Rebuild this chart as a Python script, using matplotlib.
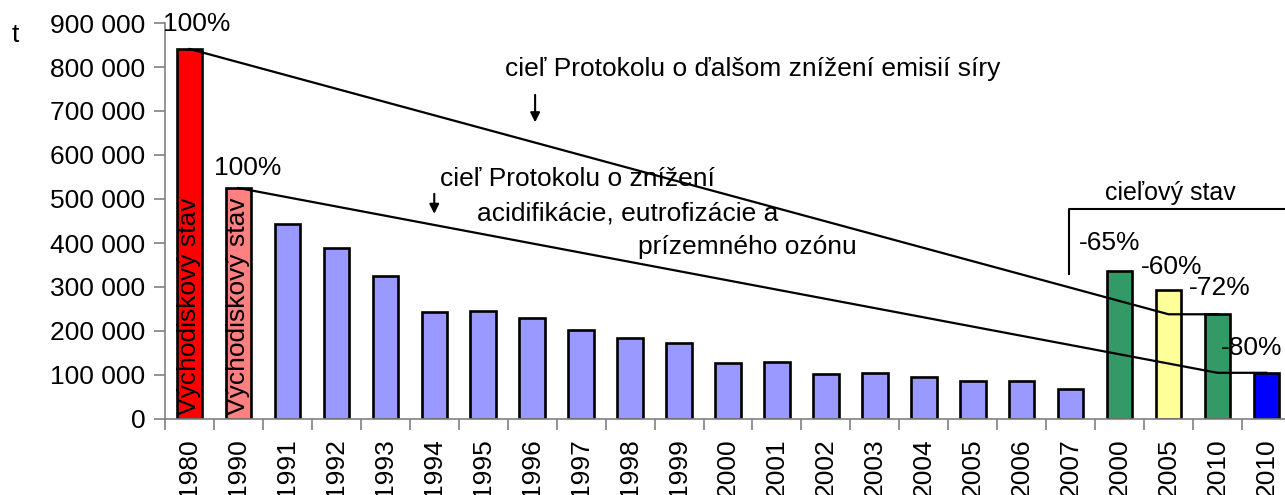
import matplotlib
matplotlib.use('Agg')
from matplotlib import pyplot as plt

# data
years = ['1980', '1990', '1991', '1992', '1993', '1994', '1995', '1996', '1997',
         '1998', '1999', '2000', '2001', '2002', '2003', '2004', '2005', '2006',
         '2007', '2000', '2005', '2010', '2010']
emissions = [841000, 525000, 443000, 389000, 325000, 244000, 245000, 230000, 203000,
             183000, 172000, 126500, 129500, 102000, 105000, 95500, 87000, 87000,
             69000, 336000, 294000, 238000, 105000]
barColors = ['#FF0000', '#FF8080'] + ['#9999FF'] * 17 + ['#339966', '#FFFF99', '#339966', '#0000FF']
yTicks = [0, 100000, 200000, 300000, 400000, 500000, 600000, 700000, 800000, 900000]

# ciel protokolov (index kategorie, hodnota)
sulphurX = [0, 20, 21]
sulphurY = [841000, 238000, 238000]
gothenburgX = [1, 21, 22]
gothenburgY = [525000, 105000, 105000]

fs = 19
plt.rcParams['font.family'] = ['Liberation Sans', 'DejaVu Sans']
fig = plt.figure(figsize=(12.85, 4.95), dpi=100)
ax = fig.add_axes([165 / 1285, 76 / 495, 1126 / 1285, 396 / 495])

x = list(range(len(years)))
ax.bar(x, emissions, width=0.52, color=barColors, edgecolor='black', linewidth=1.9, zorder=2)
ax.plot(sulphurX, sulphurY, color='black', linewidth=1.6, zorder=3)
ax.plot(gothenburgX, gothenburgY, color='black', linewidth=1.6, zorder=3)

ax.set_xlim(-0.5, len(years) - 0.5)
ax.set_ylim(0, 900000)
ax.set_yticks(yTicks)
ax.set_yticklabels(['{:,}'.format(v).replace(',', ' ') for v in yTicks], fontsize=fs)
ax.set_xticks([i - 0.5 for i in range(len(years) + 1)])
ax.set_xticklabels([])
ax.set_xticks(x, minor=True)
ax.set_xticklabels(years, minor=True, rotation=90, fontsize=fs)
ax.tick_params(axis='x', which='minor', length=0, pad=14)
ax.tick_params(axis='x', which='major', length=8, color='#808080', width=1.2)
ax.tick_params(axis='y', length=8, color='#808080', width=1.2, pad=6)
for side in ['top', 'right']:
    ax.spines[side].set_visible(False)
for side in ['left', 'bottom']:
    ax.spines[side].set_color('#808080')
    ax.spines[side].set_linewidth(1.2)

fig.text(15 / 1285, 1 - 35 / 495, 't', fontsize=fs, ha='center', va='center')

# popisky stlpcov
ax.text(0.15, 897000, '100%', fontsize=fs, ha='center', va='center', clip_on=False)
ax.text(1.18, 570000, '100%', fontsize=fs, ha='center', va='center')
for i in [0, 1]:
    ax.text(i, 10000, 'Východiskový stav', rotation=90, fontsize=fs, ha='center', va='bottom', zorder=4)
ax.text(18.8, 400000, '-65%', fontsize=fs, ha='center', va='center')
ax.text(20.07, 345000, '-60%', fontsize=fs, ha='center', va='center')
ax.text(21.05, 298000, '-72%', fontsize=fs, ha='center', va='center')
ax.text(21.7, 161000, '-80%', fontsize=fs, ha='center', va='center')

# ciele protokolov
ax.text(6.45, 795000, 'cieľ Protokolu o ďalšom znížení emisií síry', fontsize=fs, ha='left', va='center')
ax.annotate('', xy=(7.06, 668000), xytext=(7.06, 743000),
            arrowprops=dict(arrowstyle='-|>', color='black', lw=1.5, mutation_scale=14))
ax.text(5.12, 545000, 'cieľ Protokolu o znížení', fontsize=fs, ha='left', va='center')
ax.text(5.87, 468000, 'acidifikácie, eutrofizácie a', fontsize=fs, ha='left', va='center')
ax.text(9.16, 390000, 'prízemného ozónu', fontsize=fs, ha='left', va='center')
ax.annotate('', xy=(5.0, 460000), xytext=(5.0, 518000),
            arrowprops=dict(arrowstyle='-|>', color='black', lw=1.5, mutation_scale=14))

# cielovy stav
ax.plot([17.97, 17.97, 23], [330000, 478000, 478000], color='black', linewidth=1.5, clip_on=False)
ax.text(20.03, 514000, 'cieľový stav', fontsize=fs - 1, ha='center', va='center')

fig.savefig('out.png', dpi=100)
